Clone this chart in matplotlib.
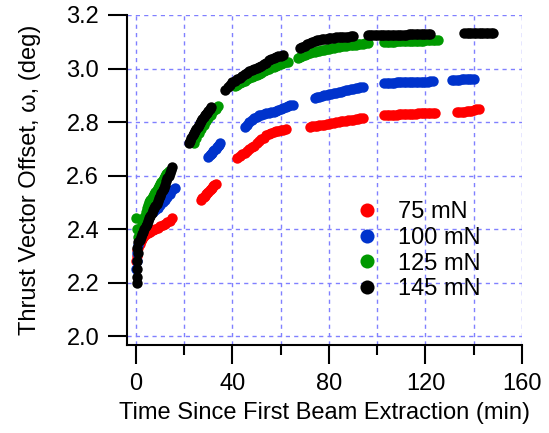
import matplotlib
matplotlib.use("Agg")
import matplotlib.pyplot as plt
from matplotlib.ticker import MultipleLocator

plt.rcParams['font.family'] = ['Liberation Sans', 'DejaVu Sans']

# ---- data: time (min) and thrust vector offset (deg), one pair of lists per series ----
t_75 = ([0, 0.3, 0.6, 1, 1.5, 2, 2.5, 3, 3.5, 4, 5, 6, 7, 8, 9, 10, 11, 12, 13, 14, 15]
        + [27, 27.5, 28, 28.5, 29, 29.5, 30, 30.5, 31, 31.5, 32, 32.5, 33]
        + list(range(42, 63))
        + list(range(72, 95))
        + list(range(103, 125))
        + list(range(133, 143)))
w_75 = ([2.28, 2.30, 2.32, 2.33, 2.345, 2.355, 2.363, 2.37, 2.375, 2.38, 2.385, 2.39, 2.395, 2.40, 2.405, 2.41, 2.415, 2.42, 2.425, 2.43, 2.44]
        + [2.51, 2.515, 2.52, 2.525, 2.53, 2.535, 2.54, 2.545, 2.55, 2.555, 2.56, 2.565, 2.57]
        + [2.665, 2.672, 2.68, 2.685, 2.69, 2.698, 2.705, 2.712, 2.72, 2.728, 2.735, 2.742, 2.75, 2.755, 2.76, 2.763, 2.765, 2.768, 2.77, 2.771, 2.772]
        + [2.782, 2.784, 2.785, 2.786, 2.787, 2.789, 2.790, 2.792, 2.793, 2.795, 2.797, 2.799, 2.800, 2.802, 2.803, 2.805, 2.806, 2.808, 2.809, 2.811, 2.812, 2.814, 2.815]
        + [2.826, 2.826, 2.827, 2.827, 2.828, 2.828, 2.829, 2.829, 2.829, 2.830, 2.830, 2.830, 2.831, 2.831, 2.832, 2.832, 2.832, 2.833, 2.833, 2.833, 2.834, 2.834]
        + [2.836, 2.837, 2.838, 2.839, 2.840, 2.842, 2.843, 2.845, 2.847, 2.85])

t_100 = ([0, 0.3, 0.6, 1, 1.5, 2, 2.5, 3, 3.5, 4, 4.5, 5, 6, 7, 8, 9, 10, 11, 12, 13, 14, 15, 16]
         + [30, 30.5, 31, 31.5, 32, 32.5, 33, 33.5, 34, 34.5, 35]
         + list(range(45, 66))
         + list(range(74, 95))
         + list(range(103, 124))
         + list(range(131, 141)))
w_100 = ([2.25, 2.28, 2.31, 2.34, 2.37, 2.39, 2.405, 2.42, 2.43, 2.44, 2.445, 2.45, 2.46, 2.465, 2.47, 2.48, 2.49, 2.50, 2.51, 2.52, 2.53, 2.545, 2.555]
         + [2.67, 2.675, 2.68, 2.685, 2.69, 2.695, 2.70, 2.705, 2.71, 2.715, 2.72]
         + [2.78, 2.79, 2.80, 2.808, 2.815, 2.82, 2.825, 2.828, 2.83, 2.833, 2.835, 2.837, 2.838, 2.842, 2.845, 2.848, 2.852, 2.855, 2.858, 2.862, 2.865]
         + [2.890, 2.893, 2.895, 2.898, 2.900, 2.902, 2.903, 2.906, 2.908, 2.910, 2.912, 2.914, 2.916, 2.918, 2.920, 2.922, 2.924, 2.926, 2.928, 2.930, 2.932]
         + [2.946, 2.946, 2.947, 2.947, 2.947, 2.948, 2.948, 2.948, 2.949, 2.949, 2.949, 2.949, 2.950, 2.950, 2.950, 2.950, 2.951, 2.951, 2.951, 2.952, 2.952]
         + [2.957, 2.957, 2.958, 2.958, 2.959, 2.959, 2.960, 2.960, 2.961, 2.961])

t_125 = ([0, 0.3, 0.8, 1.5, 2, 2.5, 3, 3.5, 4, 4.5, 5, 5.5, 6, 6.5, 7, 7.5, 8, 8.5, 9, 9.5, 10, 10.5, 11, 11.5, 12, 12.5, 13, 13.5]
         + list(range(24, 35))
         + list(range(41, 64))
         + list(range(67, 97))
         + list(range(103, 126)))
w_125 = ([2.44, 2.40, 2.37, 2.39, 2.405, 2.42, 2.432, 2.445, 2.462, 2.48, 2.49, 2.50, 2.508, 2.515, 2.522, 2.53, 2.538, 2.545, 2.552, 2.56, 2.568, 2.575, 2.582, 2.59, 2.598, 2.605, 2.61, 2.615]
         + [2.72, 2.74, 2.76, 2.775, 2.79, 2.803, 2.815, 2.828, 2.84, 2.85, 2.86]
         + [2.935, 2.94, 2.946, 2.95, 2.955, 2.959, 2.963, 2.968, 2.972, 2.976, 2.98, 2.985, 2.99, 2.995, 3.0, 3.004, 3.007, 3.01, 3.013, 3.017, 3.02, 3.023, 3.025]
         + [3.04, 3.044, 3.047, 3.05, 3.054, 3.057, 3.06, 3.062, 3.064, 3.066, 3.068, 3.07, 3.072, 3.074, 3.076, 3.078, 3.08, 3.082, 3.083, 3.084, 3.085, 3.086, 3.087, 3.088, 3.089, 3.09, 3.092, 3.093, 3.094, 3.095]
         + [3.099, 3.099, 3.100, 3.100, 3.100, 3.101, 3.101, 3.101, 3.102, 3.102, 3.102, 3.103, 3.103, 3.103, 3.104, 3.104, 3.104, 3.105, 3.105, 3.106, 3.106, 3.106, 3.107])

t_145 = ([0.3, 0.3, 0.5, 0.6, 0.8, 0.6, 1.0, 1.5, 2, 2.5, 3, 3.5, 4, 4.5, 5, 5.5, 6, 6.5, 7, 7.5, 8, 8.5, 9, 9.5, 10, 10.5, 11, 11.5, 12, 12.5, 13, 13.5, 14, 14.5, 15]
         + [22, 22.5, 23, 23.5, 24, 24.5, 25, 25.5, 26, 26.5, 27, 27.5, 28, 28.5, 29, 29.5, 30, 30.5, 31]
         + list(range(37, 62))
         + list(range(68, 91))
         + list(range(96, 123))
         + list(range(136, 149)))
w_145 = ([2.20, 2.22, 2.25, 2.28, 2.31, 2.33, 2.35, 2.36, 2.37, 2.38, 2.39, 2.40, 2.41, 2.42, 2.43, 2.44, 2.45, 2.46, 2.47, 2.478, 2.485, 2.495, 2.505, 2.515, 2.525, 2.535, 2.545, 2.555, 2.565, 2.578, 2.59, 2.60, 2.61, 2.62, 2.63]
         + [2.72, 2.73, 2.74, 2.75, 2.76, 2.768, 2.775, 2.782, 2.79, 2.798, 2.805, 2.812, 2.82, 2.825, 2.83, 2.835, 2.84, 2.848, 2.855]
         + [2.92, 2.93, 2.94, 2.948, 2.955, 2.96, 2.965, 2.972, 2.978, 2.984, 2.99, 2.994, 2.998, 3.003, 3.007, 3.011, 3.015, 3.022, 3.03, 3.035, 3.04, 3.043, 3.045, 3.048, 3.05]
         + [3.075, 3.08, 3.085, 3.09, 3.095, 3.099, 3.102, 3.105, 3.107, 3.109, 3.11, 3.112, 3.113, 3.114, 3.115, 3.116, 3.117, 3.118, 3.118, 3.119, 3.119, 3.12, 3.12]
         + [3.124, 3.124, 3.124, 3.125, 3.125, 3.125, 3.125, 3.126, 3.126, 3.126, 3.126, 3.126, 3.127, 3.127, 3.127, 3.127, 3.127, 3.128, 3.128, 3.128, 3.128, 3.128, 3.128, 3.129, 3.129, 3.129, 3.129]
         + [3.133, 3.133, 3.133, 3.133, 3.133, 3.133, 3.133, 3.133, 3.133, 3.133, 3.133, 3.133, 3.133])

labels = ['75 mN', '100 mN', '125 mN', '145 mN']
colors = ['#FF0000', '#0033CC', '#009900', '#000000']
series = [(t_75, w_75), (t_100, w_100), (t_125, w_125), (t_145, w_145)]

x_ticks = [0, 40, 80, 120, 160]
y_ticks = [2.0, 2.2, 2.4, 2.6, 2.8, 3.0, 3.2]

fig = plt.figure(figsize=(5.49, 4.33), dpi=100)
ax = fig.add_axes([127 / 549, 1 - 345 / 433, (522 - 127) / 549, (345 - 15) / 433])

for (t, w), c, lab in zip(series, colors, labels):
    n = min(len(t), len(w))
    ax.plot(t[:n], w[:n], linestyle='none', marker='o', markersize=7.5, color=c,
            markeredgewidth=0, label=lab, zorder=3)

ax.set_xlim(-3.73, 160)
ax.set_ylim(1.9664, 3.2)
ax.set_xticks(x_ticks)
ax.xaxis.set_minor_locator(MultipleLocator(20))
ax.set_yticks(y_ticks)
ax.set_yticklabels([f'{v:.1f}' for v in y_ticks])

grid_kw = dict(color='#8080FF', linestyle=(0, (3, 3)), linewidth=1.0)
ax.grid(True, which='major', axis='y', **grid_kw)
ax.grid(True, which='both', axis='x', **grid_kw)
ax.set_axisbelow(True)

for s in ['top', 'right']:
    ax.spines[s].set_visible(False)
for s in ['left', 'bottom']:
    ax.spines[s].set_linewidth(1.5)

ax.tick_params(which='major', direction='out', length=13.5, width=1.5,
               labelsize=17, color='black')
ax.tick_params(axis='x', which='major', pad=7)
ax.tick_params(axis='y', which='major', pad=6.5)
ax.tick_params(which='minor', direction='out', length=7, width=1.5)

ax.set_xlabel('Time Since First Beam Extraction (min)', fontsize=17, labelpad=5)
ax.set_ylabel('Thrust Vector Offset, ω, (deg)', fontsize=17, labelpad=18)

leg = ax.legend(loc='upper left', bbox_to_anchor=(355 / 549, 1 - 201 / 433),
                bbox_transform=fig.transFigure, frameon=False, fontsize=17,
                handlelength=1.0, handletextpad=0.8, labelspacing=0.16,
                borderpad=0, borderaxespad=0, markerscale=1.35, numpoints=1)

fig.savefig('out.png', dpi=100)
